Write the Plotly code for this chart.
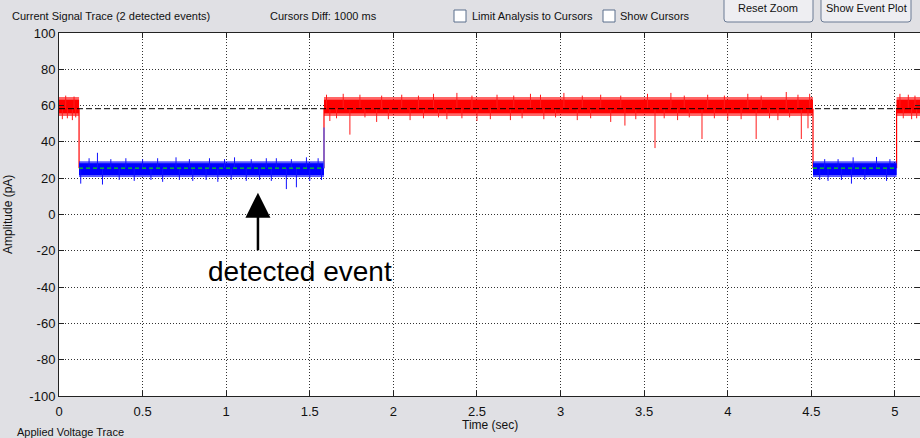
import plotly.graph_objects as go

# ---------------- data ----------------
x_ticks = [0, 0.5, 1, 1.5, 2, 2.5, 3, 3.5, 4, 4.5, 5]
x_tick_labels = ["0", "0.5", "1", "1.5", "2", "2.5", "3", "3.5", "4", "4.5", "5"]
y_ticks = [100, 80, 60, 40, 20, 0, -20, -40, -60, -80, -100]
y_tick_labels = ["100", "80", "60", "40", "20", "0", "-20", "-40", "-60", "-80", "-100"]

# open-pore (red) segments: start, end (sec)
red_seg_start = [0.0, 1.585, 5.01]
red_seg_end = [0.12, 4.51, 5.16]
red_core = [55.8, 63.2]      # dense noise band (pA)
red_fringe = [54.3, 64.8]    # outer noise band (pA)

# detected event (blue) segments
blue_seg_start = [0.12, 4.51]
blue_seg_end = [1.585, 5.01]
blue_core = [21.8, 28.2]
blue_fringe = [20.6, 29.4]

open_mean = 58.3      # black dashed line
event_mean = 25.5     # green dashed line

# individual noise spikes (time, extreme value)
red_spike_t = [0.02, 0.05, 0.08, 0.1, 1.62, 1.74, 1.9, 2.1, 2.32, 2.5, 2.7, 2.9, 3.1, 3.3, 3.385,
               3.565, 3.7, 3.846, 4.0, 4.17, 4.3, 4.44, 4.48, 5.05, 5.1,
               1.66, 1.83, 1.97, 2.18, 2.27, 2.41, 2.58, 2.77, 2.97, 3.18, 3.45, 3.62, 3.77,
               3.92, 4.08, 4.25, 4.37, 5.13,
               0.04, 0.09, 1.6, 1.7, 1.8, 1.93, 2.05, 2.15, 2.24, 2.38, 2.47, 2.62, 2.72,
               2.82, 2.88, 3.02, 3.13, 3.24, 3.36, 3.52, 3.66, 3.74, 3.88, 3.98, 4.12,
               4.2, 4.35, 4.42, 4.49, 5.03, 5.08, 5.12]
red_spike_v = [52.5, 53.0, 52.0, 53.5, 51.5, 44.0, 51.0, 52.0, 52.5, 51.5, 52.0, 52.5, 52.0, 51.0,
               49.0, 36.6, 52.0, 41.6, 52.0, 41.6, 52.0, 41.6, 47.5, 53.0, 52.5,
               53.0, 53.5, 52.5, 53.0, 53.5, 53.0, 52.5, 53.0, 53.5, 53.0, 52.5, 53.0, 53.5,
               53.0, 52.5, 53.0, 53.5, 53.0,
               65.5, 65.0, 66.0, 66.5, 66.0, 65.5, 66.0, 65.5, 66.5, 67.0, 65.5, 66.0, 65.5,
               66.5, 66.0, 67.0, 65.5, 66.0, 65.5, 66.5, 67.0, 65.5, 66.0, 65.5, 66.5,
               65.5, 67.5, 66.0, 66.5, 66.5, 66.0, 65.5]
blue_spike_t = [0.13, 0.26, 0.36, 0.45, 0.55, 0.62, 0.72, 0.8, 0.88, 0.95, 1.03, 1.12, 1.2, 1.27,
                1.36, 1.42, 1.5, 1.57, 4.55, 4.6, 4.68, 4.74, 4.82, 4.95,
                0.18, 0.23, 0.31, 0.4, 0.5, 0.59, 0.7, 0.78, 0.9, 0.99, 1.05, 1.15, 1.24,
                1.3, 1.39, 1.48, 1.55, 4.58, 4.66, 4.75, 4.89, 4.97]
blue_spike_v = [17.0, 16.5, 19.0, 18.5, 19.0, 18.0, 19.0, 18.5, 19.0, 18.0, 19.0, 18.5, 19.0, 18.5,
                14.0, 15.0, 18.5, 19.0, 19.0, 18.5, 19.0, 17.0, 19.0, 18.5,
                31.0, 34.0, 30.5, 31.0, 30.5, 31.0, 31.5, 30.5, 31.0, 30.5, 31.5, 30.5, 31.0,
                31.0, 30.5, 31.5, 31.0, 30.5, 30.5, 31.5, 31.7, 30.5]

x_range = [0, 5.15]
y_range = [-100, 100]

# ---------------- figure ----------------
fig = go.Figure()


def band_trace(starts, ends, lo, hi, color, opacity):
    xs, ys = [], []
    for s, e in zip(starts, ends):
        xs += [s, e, e, s, s, None]
        ys += [lo, lo, hi, hi, lo, None]
    return go.Scatter(x=xs, y=ys, mode="lines", fill="toself", fillcolor=color,
                      line=dict(width=0), opacity=opacity, hoverinfo="skip", showlegend=False)


def spike_trace(ts, vs, base, color):
    xs, ys = [], []
    for t, v in zip(ts, vs):
        xs += [t, t, None]
        ys += [base, v, None]
    return go.Scatter(x=xs, y=ys, mode="lines", line=dict(color=color, width=1),
                      hoverinfo="skip", showlegend=False)


# red open-pore trace
fig.add_trace(band_trace(red_seg_start, red_seg_end, red_fringe[0], red_fringe[1], "#ff0000", 0.6))
fig.add_trace(band_trace(red_seg_start, red_seg_end, red_core[0], red_core[1], "#ff0000", 1.0))
fig.add_trace(spike_trace(red_spike_t, red_spike_v, open_mean, "#ff1a1a"))

# transitions (red vertical lines)
trans_t = [red_seg_end[0], red_seg_start[1], red_seg_end[1], red_seg_start[2]]
tx, ty = [], []
for t in trans_t:
    tx += [t, t, None]
    ty += [open_mean, event_mean, None]
fig.add_trace(go.Scatter(x=tx, y=ty, mode="lines", line=dict(color="#ff0000", width=1.2),
                         hoverinfo="skip", showlegend=False))

# blue event trace
fig.add_trace(band_trace(blue_seg_start, blue_seg_end, blue_fringe[0], blue_fringe[1], "#0000ff", 0.65))
fig.add_trace(band_trace(blue_seg_start, blue_seg_end, blue_core[0], blue_core[1], "#0000ff", 1.0))
fig.add_trace(spike_trace(blue_spike_t, blue_spike_v, event_mean, "#1010ff"))
fig.add_trace(go.Scatter(x=[blue_seg_end[0], blue_seg_end[0]], y=[event_mean, 48],
                         mode="lines", line=dict(color="#4060ff", width=1.2),
                         hoverinfo="skip", showlegend=False))

# mean lines
fig.add_trace(go.Scatter(x=x_range, y=[open_mean, open_mean], mode="lines",
                         line=dict(color="black", width=1, dash="6px,3px"),
                         hoverinfo="skip", showlegend=False))
gx, gy = [], []
for s, e in zip(blue_seg_start, blue_seg_end):
    gx += [s, e, None]
    gy += [event_mean, event_mean, None]
fig.add_trace(go.Scatter(x=gx, y=gy, mode="lines",
                         line=dict(color="#00dd00", width=1.2, dash="4px,3px"),
                         hoverinfo="skip", showlegend=False))

W, H = 920, 438
L, T, B = 59, 33, 42
PW = W - L
PH = H - T - B


def px(x):
    return (x - L) / PW


def py(y):
    return (H - B - y) / PH


ui_font = dict(family="Liberation Sans, Arial, sans-serif", size=11, color="#111111")

annotations = [
    dict(text="Current Signal Trace (2 detected events)", x=px(10), y=py(16), xanchor="left",
         yanchor="middle", font=ui_font),
    dict(text="Cursors Diff: 1000 ms", x=px(268), y=py(16), xanchor="left", yanchor="middle",
         font=ui_font),
    dict(text="Limit Analysis to Cursors", x=px(470), y=py(16), xanchor="left", yanchor="middle",
         font=ui_font),
    dict(text="Show Cursors", x=px(618), y=py(16), xanchor="left", yanchor="middle",
         font=ui_font),
    dict(text="Reset Zoom", x=px(768), y=py(8), xanchor="center", yanchor="middle",
         font=ui_font),
    dict(text="Show Event Plot", x=px(866), y=py(8), xanchor="center", yanchor="middle",
         font=ui_font),
    dict(text="Amplitude (pA)", x=px(8), y=py(215), xanchor="center", yanchor="middle",
         textangle=-90, font=dict(family="Liberation Sans, Arial, sans-serif", size=12, color="#111")),
    dict(text="Time (sec)", x=px(490), y=py(425), xanchor="center", yanchor="middle",
         font=dict(family="Liberation Sans, Arial, sans-serif", size=12, color="#111")),
    dict(text="Applied Voltage Trace", x=px(15), y=py(432), xanchor="left", yanchor="middle",
         font=ui_font),
    dict(text="detected event", x=1.44, y=-31.5, xref="x", yref="y", xanchor="center",
         yanchor="middle", showarrow=False,
         font=dict(family="Liberation Sans, Arial, sans-serif", size=28, color="black")),
    dict(text="", x=1.19, y=12, xref="x", yref="y", ax=1.19, ay=-20.5, axref="x", ayref="y",
         showarrow=True, arrowhead=2, arrowsize=2.0, arrowwidth=2.5, arrowcolor="black"),
]
for a in annotations:
    a.setdefault("xref", "paper")
    a.setdefault("yref", "paper")
    a.setdefault("showarrow", False)


def rrect(x0, y0, x1, y1, r):
    X0, X1 = px(x0), px(x1)
    Y0, Y1 = py(y0), py(y1)
    rx, ry = r / PW, r / PH
    return (f"M {X0+rx},{Y1} L {X1-rx},{Y1} Q {X1},{Y1} {X1},{Y1+ry} "
            f"L {X1},{Y0-ry} Q {X1},{Y0} {X1-rx},{Y0} L {X0+rx},{Y0} "
            f"Q {X0},{Y0} {X0},{Y0-ry} L {X0},{Y1+ry} Q {X0},{Y1} {X0+rx},{Y1} Z")


shapes = [
    # checkboxes
    dict(type="rect", xref="paper", yref="paper", x0=px(454), x1=px(466), y0=py(22), y1=py(10),
         fillcolor="white", line=dict(color="#5a6e8c", width=1)),
    dict(type="rect", xref="paper", yref="paper", x0=px(603), x1=px(615), y0=py(22), y1=py(10),
         fillcolor="white", line=dict(color="#5a6e8c", width=1)),
    # buttons
    dict(type="path", xref="paper", yref="paper", path=rrect(724, -6, 813, 22, 3),
         fillcolor="#eeeef2", line=dict(color="#6a7a94", width=1)),
    dict(type="path", xref="paper", yref="paper", path=rrect(821, -6, 911, 22, 3),
         fillcolor="#eeeef2", line=dict(color="#6a7a94", width=1)),
]

axis_font = dict(family="Liberation Sans, Arial, sans-serif", size=13, color="#111111")

fig.update_layout(
    width=W, height=H,
    margin=dict(l=L, r=0, t=T, b=B, pad=0),
    paper_bgcolor="#e0e0e4",
    plot_bgcolor="white",
    showlegend=False,
    annotations=annotations,
    shapes=shapes,
    xaxis=dict(range=x_range, tickmode="array", tickvals=x_ticks, ticktext=x_tick_labels,
               showgrid=True, gridcolor="#333333", griddash="1px,2px", gridwidth=1,
               ticks="inside", ticklen=5, tickcolor="#222", showline=True, linecolor="#222",
               linewidth=1, mirror="ticks", zeroline=False, tickfont=axis_font, fixedrange=True,
               ticklabelstandoff=3),
    yaxis=dict(range=y_range, tickmode="array", tickvals=y_ticks, ticktext=y_tick_labels,
               showgrid=True, gridcolor="#333333", griddash="1px,2px", gridwidth=1,
               ticks="inside", ticklen=5, tickcolor="#222", showline=True, linecolor="#222",
               linewidth=1, mirror="ticks", zeroline=False, tickfont=axis_font, fixedrange=True),
)

fig.write_html("out.html", config={"displayModeBar": False},
               post_script="document.body.style.margin='0px';document.body.style.padding='0px';")
